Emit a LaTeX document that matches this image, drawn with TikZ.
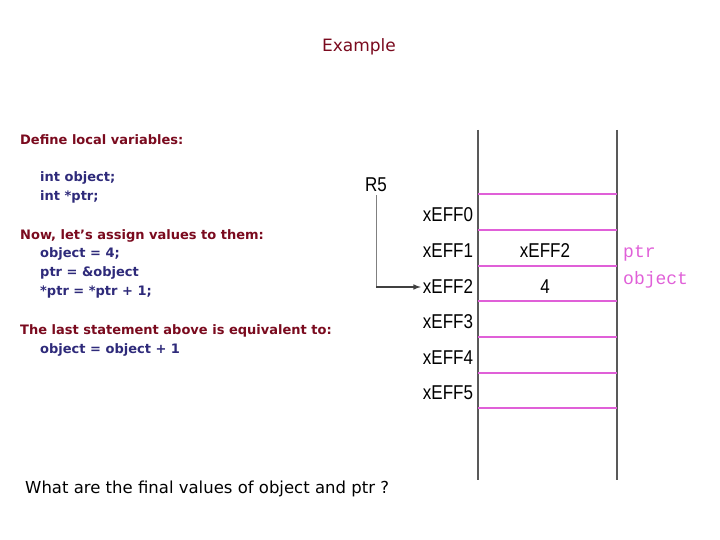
\documentclass[tikz,border=0pt]{standalone}
\usepackage{fontspec}
\setmainfont{DejaVu Sans}
\newfontfamily\labelfont[FakeStretch=0.85]{Liberation Sans}
\newfontfamily\ttlabel{Liberation Mono}
\usetikzlibrary{positioning}
\definecolor{darkred}{HTML}{7A0A1E}
\definecolor{codeblue}{HTML}{2E2A7A}
\definecolor{linepink}{HTML}{E060D8}
\tikzset{
  heading/.style={anchor=west, text=darkred, font=\bfseries\fontsize{13}{19}\selectfont, inner sep=0pt},
  code/.style={anchor=west, text=codeblue, font=\bfseries\fontsize{13}{19}\selectfont, inner sep=0pt, align=left},
  addr/.style={anchor=center, font=\labelfont\fontsize{20}{22}\selectfont, inner sep=0pt},
  sep/.style={linepink, line width=1.8pt},
}
\begin{document}
\begin{tikzpicture}[x=1pt, y=-1pt]
    \useasboundingbox (0,0) rectangle (720,540);

    \node (title) [text=darkred, font=\fontsize{17}{20}\selectfont] at (359,47) {Example};

    \node (define) [heading] at (20,140) {Define local variables:};
    \node (decl) [code] at (40,187) {int object;\\int *ptr;};
    \node (assign) [heading] at (20,236) {Now, let's assign values to them:};
    \node (stmts) [code] at (40,273) {object = 4;\\ptr = \&object\\*ptr = *ptr + 1;};
    \node (equiv) [heading] at (20,331) {The last statement above is equivalent to:};
    \node (expr) [code] at (40,350) {object = object + 1};

    \node (question) [anchor=west, font=\fontsize{16.5}{20}\selectfont, inner sep=0pt] at (25,489) {What are the final values of object and ptr ?};

    % memory column
    \coordinate (topL) at (478,130);
    \coordinate (botL) at (478,480);
    \coordinate (topR) at (617,130);
    \coordinate (botR) at (617,480);
    \draw [gray!70!black, line width=1.5pt] (topL) -- (botL);
    \draw [gray!70!black, line width=1.5pt] (topR) -- (botR);
    \foreach \y in {194,230,266,301,337,373,408}
        \draw [sep] (478,\y) -- (617,\y);

    \node (a0) [addr] at (448,215) {xEFF0};
    \node (a1) [addr] at (448,251) {xEFF1};
    \node (a2) [addr] at (448,287) {xEFF2};
    \node (a3) [addr] at (448,322) {xEFF3};
    \node (a4) [addr] at (448,358) {xEFF4};
    \node (a5) [addr] at (448,393) {xEFF5};

    \node (v1) [addr] at (545,251) {xEFF2};
    \node (v2) [addr] at (545,287) {4};

    \node (ptr) [anchor=west, text=linepink, font=\ttlabel\fontsize{18}{20}\selectfont, inner sep=0pt] at (623,253) {ptr};
    \node (obj) [anchor=west, text=linepink, font=\ttlabel\fontsize{18}{20}\selectfont, inner sep=0pt] at (623,280) {object};

    \node (r5) [addr] at (376,185) {R5};
    \coordinate (bend) at (r5.south |- a2.west);
    \draw [gray, line width=0.8pt] ([yshift=-3pt]r5.south) -- (bend);
    \draw [-latex, line width=1.5pt, black!75] (bend) -- ([xshift=-2pt]a2.west);
\end{tikzpicture}
\end{document}
